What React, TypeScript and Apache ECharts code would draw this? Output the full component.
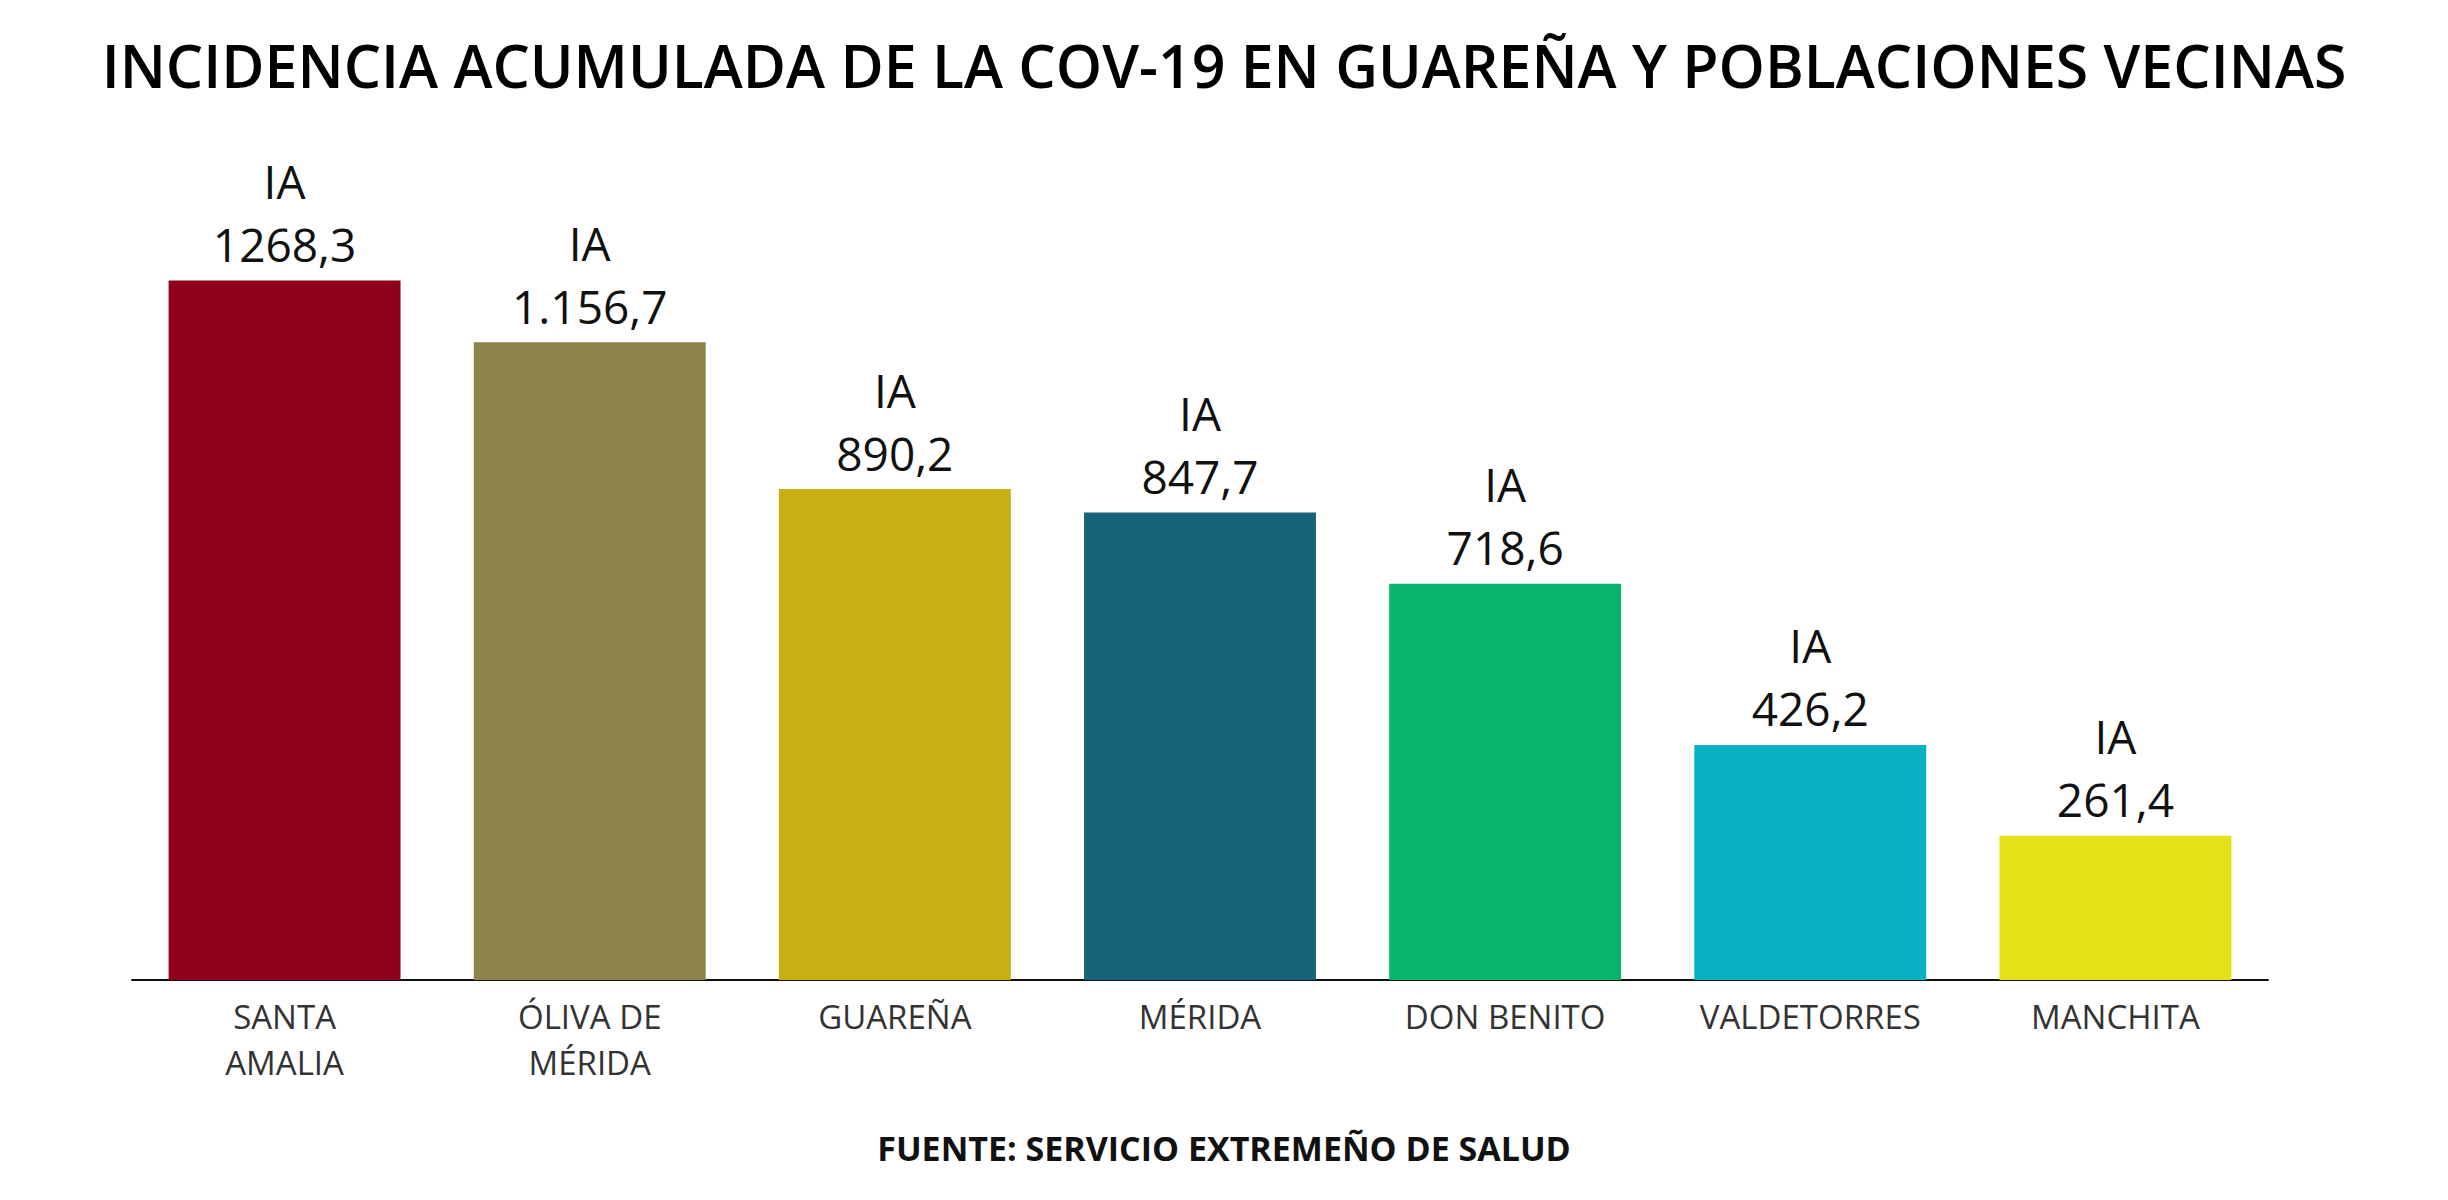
import React, { useEffect, useRef } from "react";
import * as echarts from "echarts";

const categories = [
  "SANTA\nAMALIA",
  "ÓLIVA DE\nMÉRIDA",
  "GUAREÑA",
  "MÉRIDA",
  "DON BENITO",
  "VALDETORRES",
  "MANCHITA",
];
const values = [1268.3, 1156.7, 890.2, 847.7, 718.6, 426.2, 261.4];
const valueLabels = ["1268,3", "1.156,7", "890,2", "847,7", "718,6", "426,2", "261,4"];
const barColors = ["#8E001C", "#8C844C", "#C8B012", "#156477", "#06B56A", "#08B2C2", "#E4E216"];

const FONT = "'Open Sans', 'DejaVu Sans', sans-serif";

export default function App() {
  const ref = useRef<HTMLDivElement>(null);
  useEffect(() => {
    document.body.style.margin = "0";
    if (!ref.current) return;
    const chart = echarts.init(ref.current, null, { renderer: "svg" });
    chart.setOption({
      animation: false,
      backgroundColor: "#ffffff",
      title: [
        {
          text: "INCIDENCIA ACUMULADA DE LA COV-19 EN GUAREÑA Y POBLACIONES VECINAS",
          left: "center",
          top: 30,
          textStyle: { fontFamily: FONT, fontSize: 59, fontWeight: 600, color: "#000000" },
        },
        {
          text: "FUENTE: SERVICIO EXTREMEÑO DE SALUD",
          left: "center",
          top: 1126,
          textStyle: { fontFamily: FONT, fontSize: 34, fontWeight: 700, color: "#111111" },
        },
      ],
      grid: { left: 132, right: 180, top: 208, bottom: 220 },
      xAxis: {
        type: "category",
        data: categories,
        axisLine: { show: true, lineStyle: { color: "#111111", width: 2 } },
        axisTick: { show: false },
        axisLabel: {
          fontFamily: FONT,
          fontSize: 33,
          lineHeight: 46,
          color: "#333333",
          margin: 13,
          interval: 0,
        },
      },
      yAxis: {
        type: "value",
        min: 0,
        max: 1400,
        show: false,
        splitLine: { show: false },
      },
      series: [
        {
          type: "bar",
          data: values.map((v, i) => ({ value: v, itemStyle: { color: barColors[i] } })),
          barCategoryGap: "24%",
          label: {
            show: true,
            position: "top",
            distance: 5,
            formatter: (p: any) => `IA\n${valueLabels[p.dataIndex]}`,
            fontFamily: FONT,
            fontSize: 46,
            lineHeight: 63,
            color: "#111111",
            align: "center",
          },
        },
      ],
    });
    return () => chart.dispose();
  }, []);
  return <div ref={ref} style={{ width: 2448, height: 1200 }} />;
}
